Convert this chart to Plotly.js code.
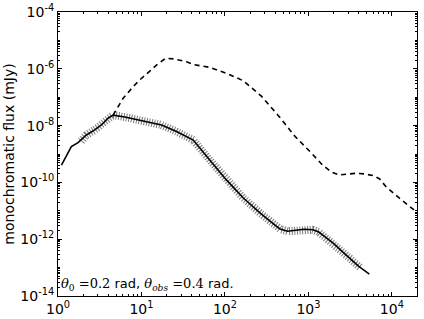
<!DOCTYPE html>
<html><head><meta charset="utf-8">
<script src="https://cdn.plot.ly/plotly-3.0.1.min.js"></script>
<style>html,body{margin:0;padding:0;background:#fff}#plot{width:424px;height:319px}</style>
</head><body><div id="plot"></div>
<script>
// solid curve (observed spectrum)
const obsFreq = [1.1, 1.32, 1.445, 1.738, 2.188, 2.754, 3.311, 3.981, 4.571, 6.31, 9.12, 12.59, 17.38, 26.3, 41.7, 66.1, 104.7, 166, 269, 398, 457, 562, 708, 891, 1122, 1318, 1585, 1995, 2512, 3162, 3981, 5370];
const obsFlux = [4.07e-10, 1.05e-9, 1.82e-9, 2.51e-9, 4.68e-9, 7.08e-9, 1.05e-8, 1.82e-8, 2.34e-8, 2.0e-8, 1.58e-8, 1.32e-8, 1.05e-8, 6.17e-9, 3.09e-9, 6.03e-10, 1.20e-10, 2.82e-11, 7.94e-12, 3.16e-12, 2.29e-12, 1.91e-12, 2.04e-12, 2.24e-12, 2.14e-12, 1.82e-12, 1.20e-12, 7.08e-13, 3.80e-13, 2.09e-13, 1.12e-13, 5.89e-14];
// hatched model points
const fitFreq = [1.9, 2.188, 2.754, 3.311, 3.981, 4.571, 6.31, 9.12, 12.59, 17.38, 26.3, 41.7, 66.1, 104.7, 166, 269, 398, 457, 562, 708, 891, 1122, 1318, 1585, 1995, 2512, 3162, 3981, 4170];
const fitFlux = [2.82e-9, 4.68e-9, 7.08e-9, 1.05e-8, 1.82e-8, 2.34e-8, 2.0e-8, 1.58e-8, 1.32e-8, 1.05e-8, 6.17e-9, 3.09e-9, 6.03e-10, 1.20e-10, 2.82e-11, 7.94e-12, 3.16e-12, 2.29e-12, 1.91e-12, 2.04e-12, 2.24e-12, 2.14e-12, 1.82e-12, 1.20e-12, 7.08e-13, 3.80e-13, 2.09e-13, 1.12e-13, 1.0e-13];
// dashed curve
const dashFreq = [4.57, 6.03, 7.94, 9.55, 12.6, 15.1, 19.5, 24.0, 34.7, 41.7, 66.1, 104.7, 166, 275, 437, 692, 1096, 1479, 1905, 2344, 2951, 3715, 4677, 5888, 7079, 8511, 12590, 19950];
const dashFlux = [2.34e-8, 9.12e-8, 2.34e-7, 4.07e-7, 8.32e-7, 1.35e-6, 2.34e-6, 2.24e-6, 1.78e-6, 1.41e-6, 1.12e-6, 6.92e-7, 3.80e-7, 1.07e-7, 2.24e-8, 4.17e-9, 1.05e-9, 4.07e-10, 2.29e-10, 1.82e-10, 1.95e-10, 2.09e-10, 2.0e-10, 1.74e-10, 1.35e-10, 7.08e-11, 2.63e-11, 8.91e-12];
const xTickVals = [1, 10, 100, 1000, 10000];
const xTickText = ['10<sup>0</sup>', '10<sup>1</sup>', '10<sup>2</sup>', '10<sup>3</sup>', '10<sup>4</sup>'];
const yTickVals = [1e-14, 1e-12, 1e-10, 1e-8, 1e-6, 1e-4];
const yTickText = ['10<sup>-14</sup>', '10<sup>-12</sup>', '10<sup>-10</sup>', '10<sup>-8</sup>', '10<sup>-6</sup>', '10<sup>-4</sup>'];

const traces = [
  {x: fitFreq, y: fitFlux, mode: 'lines', line: {color: '#7a7a7a', width: 8, dash: '1px,1.6px'}, hoverinfo: 'skip'},
  {x: obsFreq, y: obsFlux, mode: 'lines', line: {color: 'black', width: 1.6}},
  {x: dashFreq, y: dashFlux, mode: 'lines', line: {color: 'black', width: 1.6, dash: '5px,4px'}}
];
const layout = {
  width: 424, height: 319,
  margin: {l: 58, r: 7, t: 12, b: 23},
  showlegend: false,
  paper_bgcolor: 'white', plot_bgcolor: 'white',
  font: {family: 'DejaVu Sans', size: 12, color: 'black'},
  xaxis: {type: 'log', range: [0, 4.301], tickmode: 'array', tickvals: xTickVals, ticktext: xTickText,
    ticks: 'inside', ticklen: 4, tickcolor: 'black', showline: true, linecolor: 'black', linewidth: 1,
    mirror: 'allticks', showgrid: false, zeroline: false, tickfont: {family: 'DejaVu Sans', size: 14},
    minor: {ticks: 'inside', ticklen: 2, tickcolor: 'black', dtick: 'D1', showgrid: false}},
  yaxis: {type: 'log', range: [-14, -4], tickmode: 'array', tickvals: yTickVals, ticktext: yTickText,
    ticks: 'inside', ticklen: 4, tickcolor: 'black', showline: true, linecolor: 'black', linewidth: 1,
    mirror: 'allticks', showgrid: false, zeroline: false, tickfont: {family: 'DejaVu Sans', size: 14},
    minor: {ticks: 'inside', ticklen: 2, tickcolor: 'black', dtick: 'D1', showgrid: false},
    title: {text: 'monochromatic flux (mJy)', font: {family: 'DejaVu Sans', size: 14}, standoff: 2}},
  annotations: [{
    xref: 'paper', yref: 'paper', x: 0.003, y: 0.003, xanchor: 'left', yanchor: 'bottom', showarrow: false,
    text: '<span style="font-family:DejaVu Serif"><i>θ</i><sub>0</sub> =0.2</span> rad, <span style="font-family:DejaVu Serif"><i>θ</i><sub><i>obs</i></sub> =0.4</span> rad.',
    font: {family: 'DejaVu Sans', size: 13, color: 'black'}
  }]
};
Plotly.newPlot('plot', traces, layout, {staticPlot: true});
</script></body></html>
